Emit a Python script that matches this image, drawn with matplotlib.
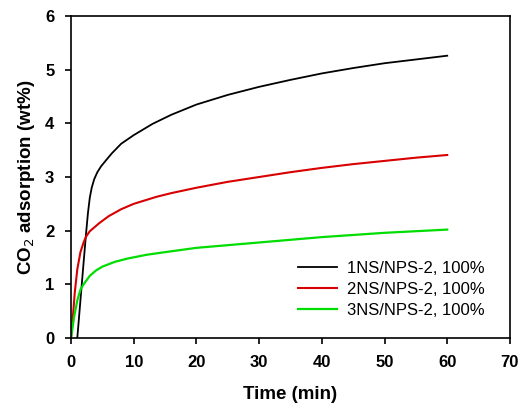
'''
co2_uptake.py
CO2 adsorption kinetics of the NS/NPS-2 sorbents at 100% CO2
'''

# IMPORTS
import matplotlib
matplotlib.use('Agg')
import matplotlib.pyplot as plt

# DATA
t_1ns = [1.0, 1.5, 2.0, 2.4, 2.7, 3.0, 3.3, 3.7, 4.2, 4.8, 5.5, 6.5, 8, 10, 13, 16, 20, 25, 30,
         35, 40, 45, 50, 55, 60]
q_1ns = [0.0, 0.7, 1.4, 1.95, 2.33, 2.62, 2.8, 2.96, 3.09, 3.2, 3.3, 3.44, 3.62, 3.78, 3.99, 4.16,
         4.35, 4.53, 4.68, 4.81, 4.93, 5.03, 5.12, 5.19, 5.26]

t_2ns = [0, 0.15, 0.3, 0.6, 1.0, 1.5, 2.0, 2.4, 3, 4.5, 6, 8, 10, 13.6, 16, 20, 25, 30, 35, 40, 45,
         50, 55, 60]
q_2ns = [0.0, 0.2, 0.4, 0.85, 1.28, 1.6, 1.78, 1.89, 1.99, 2.14, 2.27, 2.4, 2.5, 2.63, 2.7, 2.8, 2.91,
         3.0, 3.09, 3.17, 3.24, 3.3, 3.36, 3.41]

t_3ns = [0, 0.25, 0.5, 1.0, 1.5, 2.0, 3, 4, 5, 7, 9, 12, 15, 20, 25, 30, 35, 40, 45, 50, 55, 60]
q_3ns = [0.0, 0.2, 0.4, 0.7, 0.9, 1.0, 1.16, 1.26, 1.33, 1.42, 1.48, 1.55, 1.6, 1.68, 1.73, 1.78,
         1.83, 1.88, 1.92, 1.96, 1.99, 2.02]

labels = ['1NS/NPS-2, 100%', '2NS/NPS-2, 100%', '3NS/NPS-2, 100%']
colors = ['k', '#d80000', '#00dd00']

# PLOT
plt.rcParams['font.family'] = ['Liberation Sans', 'DejaVu Sans']

fig = plt.figure(figsize=(5.23, 4.05), dpi=100)
ax = fig.add_axes([0.1358, 0.1654, 0.8392, 0.7951])

ax.plot(t_1ns, q_1ns, color=colors[0], lw=1.3, label=labels[0])
ax.plot(t_2ns, q_2ns, color=colors[1], lw=1.5, label=labels[1])
ax.plot(t_3ns, q_3ns, color=colors[2], lw=1.6, label=labels[2])

ax.set_xlim([0, 70])
ax.set_ylim([0, 6])
ax.set_xticks(range(0, 71, 10))
ax.set_yticks(range(0, 7))
ax.tick_params(direction='out', length=4, width=1.2, labelsize=12, pad=8,
               top=False, right=False)
for lab in ax.get_xticklabels() + ax.get_yticklabels():
    lab.set_fontweight('bold')
for sp in ax.spines.values():
    sp.set_linewidth(1.2)

ax.set_xlabel('Time (min)', fontsize=13.5, fontweight='bold', labelpad=12)
ax.set_ylabel(r'CO$_2$ adsorption (wt%)', fontsize=13.5, fontweight='bold', labelpad=6)

ax.legend(loc='lower left', bbox_to_anchor=(0.482, 0.015), frameon=False, fontsize=12,
          handlelength=2.35, handletextpad=0.6, labelspacing=0.36)

fig.savefig('out.png', dpi=100)
